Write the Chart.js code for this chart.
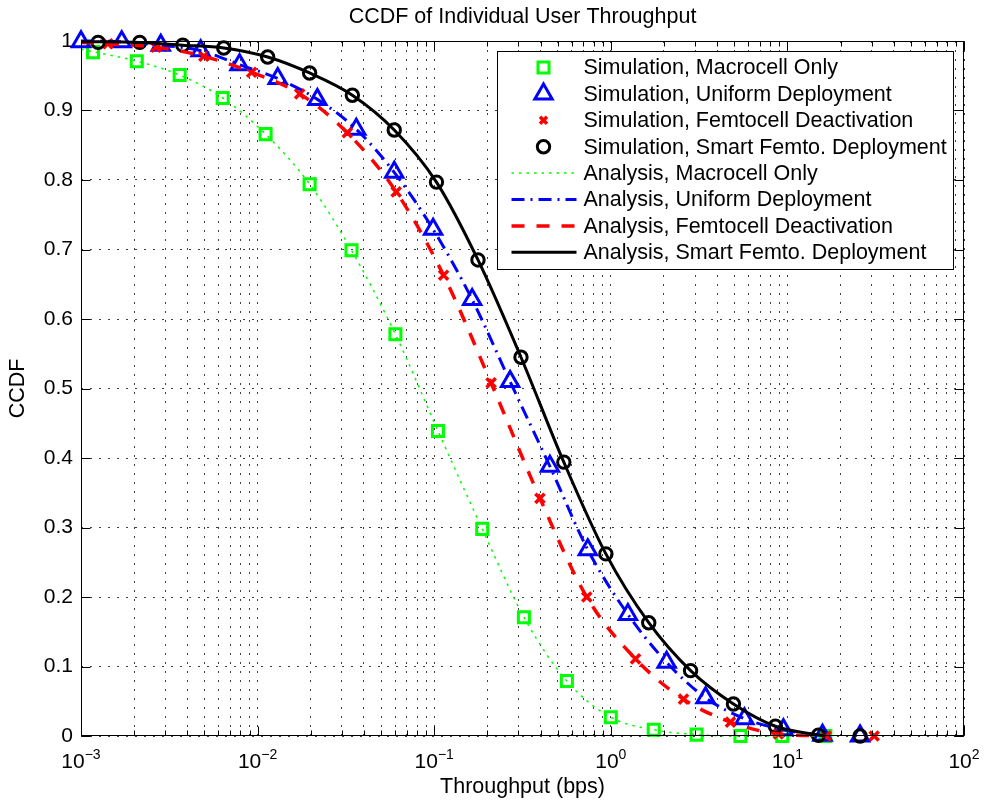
<!DOCTYPE html>
<html>
<head>
<meta charset="utf-8">
<title>CCDF of Individual User Throughput</title>
<script src="https://cdn.jsdelivr.net/npm/chart.js@4.4.0/dist/chart.umd.min.js"></script>
<style>
  html, body { margin: 0; padding: 0; background: #fff; }
  #chart { display: block; }
</style>
</head>
<body>
<canvas id="chart" width="987" height="801"></canvas>
<script>
// Throughput (bps) vs CCDF, one pair of arrays per curve

// simulation markers
const SIM_MACRO_X = [0.00117, 0.00207, 0.00362, 0.00634, 0.0111, 0.0197, 0.034, 0.0603, 0.105, 0.187, 0.322, 0.564, 1.0, 1.75, 3.06, 5.42, 9.35, 16.4];
const SIM_MACRO_Y = [0.984, 0.971, 0.951, 0.918, 0.866, 0.794, 0.699, 0.578, 0.439, 0.298, 0.171, 0.079, 0.027, 0.009, 0.002, 0.0, 0.0, 0.0];

const SIM_UNIFORM_X = [0.001, 0.0017, 0.00283, 0.00476, 0.0079, 0.013, 0.0218, 0.0362, 0.0594, 0.0986, 0.164, 0.269, 0.452, 0.741, 1.25, 2.07, 3.44, 5.71, 9.49, 15.8, 25.8];
const SIM_UNIFORM_Y = [0.999, 0.999, 0.994, 0.986, 0.966, 0.946, 0.916, 0.873, 0.811, 0.729, 0.628, 0.510, 0.388, 0.268, 0.175, 0.106, 0.055, 0.025, 0.009, 0.001, 0.0];

const SIM_FEMTO_X = [0.00142, 0.00266, 0.00496, 0.00925, 0.0173, 0.0322, 0.0609, 0.113, 0.21, 0.397, 0.731, 1.38, 2.58, 4.76, 8.89, 16.6, 31.0];
const SIM_FEMTO_Y = [0.996, 0.991, 0.978, 0.955, 0.924, 0.868, 0.783, 0.663, 0.508, 0.342, 0.200, 0.111, 0.053, 0.020, 0.003, 0.0, 0.0];

const SIM_SMART_X = [0.00125, 0.00215, 0.00377, 0.00643, 0.0114, 0.0197, 0.0344, 0.0594, 0.103, 0.177, 0.31, 0.542, 0.938, 1.64, 2.83, 4.95, 8.55, 15.0, 25.8];
const SIM_SMART_Y = [0.998, 0.998, 0.994, 0.990, 0.977, 0.954, 0.922, 0.872, 0.797, 0.685, 0.545, 0.394, 0.262, 0.163, 0.094, 0.046, 0.014, 0.001, 0.0];

// analysis curves
const ANA_MACRO_X = [0.001, 0.00207, 0.00362, 0.00634, 0.0111, 0.0197, 0.034, 0.0603, 0.105, 0.187, 0.322, 0.564, 1.0, 1.75, 3.06, 5.42, 9.35, 16.4];
const ANA_MACRO_Y = [0.988, 0.971, 0.951, 0.918, 0.866, 0.794, 0.699, 0.578, 0.439, 0.298, 0.171, 0.079, 0.027, 0.009, 0.002, 0.0, 0.0, 0.0];

const ANA_UNIFORM_X = [0.001, 0.0017, 0.00283, 0.00476, 0.0079, 0.013, 0.0218, 0.0362, 0.0594, 0.0986, 0.164, 0.269, 0.452, 0.741, 1.25, 2.07, 3.44, 5.71, 9.49, 16.4];
const ANA_UNIFORM_Y = [1.0, 0.999, 0.994, 0.986, 0.966, 0.946, 0.916, 0.873, 0.811, 0.729, 0.628, 0.510, 0.388, 0.268, 0.175, 0.106, 0.055, 0.025, 0.009, 0.0];

const ANA_FEMTO_X = [0.001, 0.00142, 0.00266, 0.00496, 0.00925, 0.0173, 0.0322, 0.0609, 0.113, 0.21, 0.397, 0.731, 1.38, 2.58, 4.76, 8.89, 16.6];
const ANA_FEMTO_Y = [0.998, 0.996, 0.991, 0.978, 0.955, 0.924, 0.868, 0.783, 0.663, 0.508, 0.342, 0.200, 0.111, 0.053, 0.020, 0.003, 0.0];

const ANA_SMART_X = [0.001, 0.00215, 0.00377, 0.00643, 0.0114, 0.0197, 0.0344, 0.0594, 0.103, 0.177, 0.31, 0.542, 0.938, 1.64, 2.83, 4.95, 8.55, 16.4];
const ANA_SMART_Y = [0.999, 0.998, 0.994, 0.990, 0.977, 0.954, 0.922, 0.872, 0.797, 0.685, 0.545, 0.394, 0.262, 0.163, 0.094, 0.046, 0.014, 0.0];

// axes
const X_DECADES = [-3, -2, -1, 0, 1, 2];
const X_MINOR = [2, 3, 4, 5, 6, 7, 8, 9];
const Y_TICKS = [0, 0.1, 0.2, 0.3, 0.4, 0.5, 0.6, 0.7, 0.8, 0.9, 1];

const TITLE = 'CCDF of Individual User Throughput';
const X_TITLE = 'Throughput (bps)';
const Y_TITLE = 'CCDF';

const FONT = '"Liberation Sans", Arial, Helvetica, sans-serif';
const GREEN = '#00ff00';
const BLUE = '#0000ff';
const RED = '#ff0000';
const BLACK = '#000000';

const pts = (xs, ys) => xs.map((x, i) => ({ x, y: ys[i] }));

// marker-only series
const marker = (label, xs, ys, color, style, radius, width) => ({
  label,
  data: pts(xs, ys),
  showLine: false,
  pointStyle: style,
  pointRadius: radius,
  pointBorderWidth: width,
  borderColor: color,
  pointBorderColor: color,
  backgroundColor: 'rgba(0,0,0,0)',
  pointBackgroundColor: 'rgba(0,0,0,0)',
  clip: false,
});

// line-only series
const curve = (label, xs, ys, color, width, dash) => ({
  label,
  data: pts(xs, ys),
  showLine: true,
  pointRadius: 0,
  borderColor: color,
  borderWidth: width,
  borderDash: dash,
  cubicInterpolationMode: 'monotone',
  fill: false,
  clip: false,
});

const datasets = [
  marker('Simulation, Macrocell Only', SIM_MACRO_X, SIM_MACRO_Y, GREEN, 'rect', 7.8, 3),
  marker('Simulation, Uniform Deployment', SIM_UNIFORM_X, SIM_UNIFORM_Y, BLUE, 'triangle', 10, 3),
  marker('Simulation, Femtocell Deactivation', SIM_FEMTO_X, SIM_FEMTO_Y, RED, 'crossRot', 6.5, 3.5),
  marker('Simulation, Smart Femto. Deployment', SIM_SMART_X, SIM_SMART_Y, BLACK, 'circle', 6.2, 3),
  curve('Analysis, Macrocell Only', ANA_MACRO_X, ANA_MACRO_Y, GREEN, 1.5, [2.5, 5]),
  curve('Analysis, Uniform Deployment', ANA_UNIFORM_X, ANA_UNIFORM_Y, BLUE, 3, [13, 6, 2, 6]),
  curve('Analysis, Femtocell Deactivation', ANA_FEMTO_X, ANA_FEMTO_Y, RED, 3.5, [13, 12]),
  curve('Analysis, Smart Femto. Deployment', ANA_SMART_X, ANA_SMART_Y, BLACK, 3, []),
];
// later series on top
datasets.forEach((d, i) => { d.order = datasets.length - i; });

// box, inward ticks, x labels with exponents and the legend
const axesDecor = {
  id: 'axesDecor',
  afterDatasetsDraw(chart) {
    const { ctx, chartArea: a, scales: { x, y } } = chart;
    const L = Math.round(a.left) + 0.5, R = Math.round(a.right) - 0.5;
    const T = Math.round(a.top) + 0.5, B = Math.round(a.bottom) - 0.5;

    ctx.save();
    ctx.strokeStyle = '#000';
    ctx.lineWidth = 1;
    ctx.setLineDash([]);
    ctx.strokeRect(L, T, R - L, B - T);

    ctx.beginPath();
    for (const v of Y_TICKS) {
      const py = Math.round(y.getPixelForValue(v)) + 0.5;
      ctx.moveTo(L, py); ctx.lineTo(L + 9, py);
      ctx.moveTo(R, py); ctx.lineTo(R - 9, py);
    }
    for (const k of X_DECADES) {
      const px = Math.round(x.getPixelForValue(Math.pow(10, k))) + 0.5;
      ctx.moveTo(px, B); ctx.lineTo(px, B - 9);
      ctx.moveTo(px, T); ctx.lineTo(px, T + 9);
      if (k === X_DECADES[X_DECADES.length - 1]) continue;
      for (const m of X_MINOR) {
        const qx = Math.round(x.getPixelForValue(m * Math.pow(10, k))) + 0.5;
        ctx.moveTo(qx, B); ctx.lineTo(qx, B - 5);
        ctx.moveTo(qx, T); ctx.lineTo(qx, T + 5);
      }
    }
    ctx.stroke();

    // 10^k labels under the x axis
    ctx.fillStyle = '#000';
    ctx.textBaseline = 'alphabetic';
    ctx.textAlign = 'left';
    for (const k of X_DECADES) {
      const px = x.getPixelForValue(Math.pow(10, k));
      const base = '10';
      const exp = k < 0 ? '\u2212' + (-k) : String(k);
      ctx.font = `21px ${FONT}`;
      const wb = ctx.measureText(base).width;
      ctx.font = `14px ${FONT}`;
      const we = ctx.measureText(exp).width;
      const x0 = px - (wb + we) / 2;
      ctx.font = `21px ${FONT}`;
      ctx.fillText(base, x0, a.bottom + 32);
      ctx.font = `14px ${FONT}`;
      ctx.fillText(exp, x0 + wb, a.bottom + 23);
    }

    // legend box
    const bw = 456, bh = 218;
    const bx = Math.round(a.right - 11 - bw) + 0.5;
    const by = Math.round(a.top + 10) + 0.5;
    ctx.fillStyle = '#fff';
    ctx.fillRect(bx, by, bw, bh);
    ctx.strokeStyle = '#000';
    ctx.lineWidth = 1;
    ctx.strokeRect(bx, by, bw, bh);

    const rowH = 26.4;
    ctx.font = `21.5px ${FONT}`;
    ctx.textBaseline = 'middle';
    chart.data.datasets.forEach((d, i) => {
      const cy = by + 16 + i * rowH;
      if (d.showLine) {
        ctx.save();
        ctx.strokeStyle = d.borderColor;
        ctx.lineWidth = d.borderWidth;
        ctx.setLineDash(d.borderDash || []);
        ctx.beginPath();
        ctx.moveTo(bx + 14, cy);
        ctx.lineTo(bx + 79, cy);
        ctx.stroke();
        ctx.restore();
      } else {
        ctx.save();
        ctx.strokeStyle = d.pointBorderColor;
        ctx.fillStyle = 'rgba(0,0,0,0)';
        ctx.lineWidth = d.pointBorderWidth;
        Chart.helpers.drawPoint(ctx, {
          pointStyle: d.pointStyle,
          radius: d.pointStyle === 'crossRot' ? 5 : d.pointRadius,
          borderWidth: d.pointBorderWidth,
          rotation: 0,
        }, bx + 46, cy);
        ctx.restore();
      }
      ctx.fillStyle = '#000';
      ctx.fillText(d.label, bx + 86, cy + 1);
    });
    ctx.restore();
  },
};

new Chart(document.getElementById('chart'), {
  type: 'scatter',
  data: { datasets },
  plugins: [axesDecor],
  options: {
    responsive: false,
    animation: false,
    events: [],
    layout: { padding: { left: 0, right: 23, top: 0, bottom: 0 } },
    plugins: {
      legend: { display: false },
      tooltip: { enabled: false },
      title: {
        display: true,
        text: TITLE,
        fullSize: false,
        color: '#000',
        font: { family: FONT, size: 21.5, weight: 'normal', lineHeight: 1.2 },
        padding: { top: 4, bottom: 11.2 },
      },
    },
    scales: {
      x: {
        type: 'logarithmic',
        min: 1e-3,
        max: 1e2,
        afterBuildTicks: (s) => {
          const ticks = [];
          for (const k of X_DECADES) {
            ticks.push({ value: Math.pow(10, k), major: true });
            if (k === X_DECADES[X_DECADES.length - 1]) continue;
            for (const m of X_MINOR) ticks.push({ value: m * Math.pow(10, k) });
          }
          s.ticks = ticks;
        },
        afterFit: (s) => { s.height = 65; },
        ticks: { display: false },
        grid: { color: 'rgba(0,0,0,0.75)', lineWidth: 1, drawTicks: false },
        border: { display: false, dash: [2, 7] },
        title: {
          display: true,
          text: X_TITLE,
          color: '#000',
          font: { family: FONT, size: 21.5, lineHeight: 1.2 },
          padding: { top: 0, bottom: 0.8 },
        },
      },
      y: {
        type: 'linear',
        min: 0,
        max: 1,
        afterBuildTicks: (s) => { s.ticks = Y_TICKS.map((v) => ({ value: v })); },
        afterFit: (s) => { s.width = 81; },
        ticks: {
          color: '#000',
          padding: 8,
          font: { family: FONT, size: 21 },
          callback: (v) => String(+(+v).toFixed(1)),
        },
        grid: { color: 'rgba(0,0,0,0.75)', lineWidth: 1, drawTicks: false },
        border: { display: false, dash: [2, 7] },
        title: {
          display: true,
          text: Y_TITLE,
          color: '#000',
          font: { family: FONT, size: 21.5, lineHeight: 1.2 },
          padding: { top: 5, bottom: 0 },
        },
      },
    },
  },
});
</script>
</body>
</html>
